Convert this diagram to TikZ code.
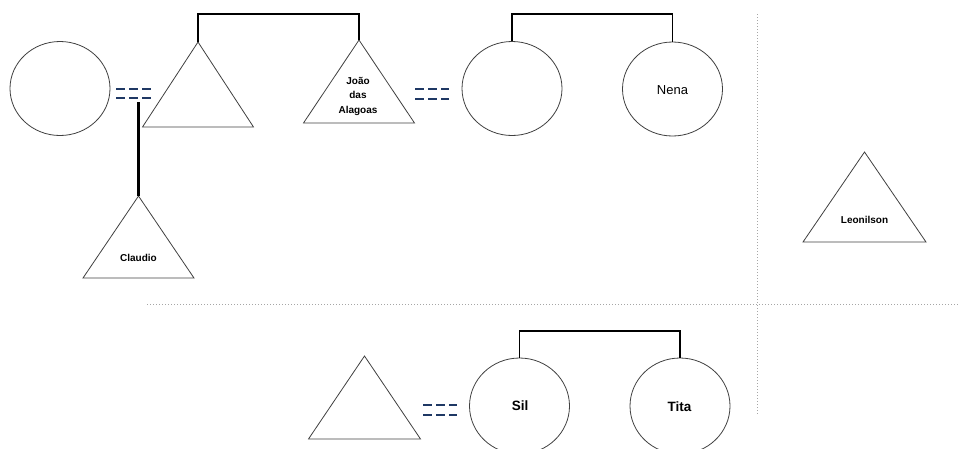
\documentclass[tikz,border=0pt]{standalone}
\usepackage{fontspec}
\setmainfont{Liberation Sans}
\usetikzlibrary{shapes.geometric}

\definecolor{navy}{HTML}{1F3864}
\tikzset{
  person/.style={ellipse, draw=black!75, line width=0.8pt, inner sep=0pt,
                 minimum width=100pt, minimum height=94pt},
  trishape/.style={draw=black!75, line width=0.8pt, line join=miter},
  lbl/.style={font=\bfseries\fontsize{10}{14.5}\selectfont, align=center, inner sep=0pt},
  biglbl/.style={font=\fontsize{13}{15}\selectfont, inner sep=0pt},
  bigbold/.style={font=\bfseries\fontsize{13.5}{15}\selectfont, inner sep=0pt},
  sibling/.style={line width=1.8pt, black},
  descent/.style={line width=2.4pt, black},
  union/.style={line width=2.3pt, color=navy, dash pattern=on 9pt off 4pt},
  divider/.style={line width=1pt, color=black!35, dotted}
}

% \mtri{name}{apex x}{apex y}{half base}{height}
\newcommand{\mtri}[5]{%
  \coordinate (#1-top) at (#2,#3);
  \coordinate (#1-bl) at (#2-#4,#3+#5);
  \coordinate (#1-br) at (#2+#4,#3+#5);
  \draw[trishape] (#1-top) -- (#1-bl) -- (#1-br) -- cycle;
}

\begin{document}
\begin{tikzpicture}[x=1pt, y=-1pt]
  \useasboundingbox (0,0) rectangle (958,448);

  % dividers
  \coordinate (vtop) at (757,14);
  \coordinate (vbot) at (757,415);
  \coordinate (hleft) at (147,304);
  \coordinate (hright) at (958,304);
  \draw[divider] (vtop) -- (vbot);
  \draw[divider] (hleft) -- (hright);

  % first generation, left family
  \node[person] (w1) at (60,88.5) {};
  \mtri{m1}{198}{42}{55.5}{85}
  \mtri{joao}{359}{40}{55.5}{83}
  \node[lbl] (joaotxt) at (358,96) {João\\das\\Alagoas};
  \node[person] (w2) at (512,88.5) {};
  \node[person] (nena) at (672.5,89) {};
  \node[biglbl] (nenatxt) at (672.5,90) {Nena};

  % Claudio
  \mtri{claudio}{138.5}{196}{55.5}{82}
  \node[lbl] (claudiotxt) at (138.5,258) {Claudio};

  % Leonilson
  \mtri{leo}{864.5}{152}{61.5}{90}
  \node[lbl] (leotxt) at (864.5,220) {Leonilson};

  % bottom family
  \mtri{m3}{364.5}{356}{56}{83}
  \node[person, minimum height=96pt] (sil) at (519.5,406) {};
  \node[bigbold] (siltxt) at (520,406) {Sil};
  \node[person, minimum height=96pt] (tita) at (680,406) {};
  \node[bigbold] (titatxt) at (679.5,407) {Tita};

  % sibling brackets
  \draw[sibling] (m1-top) -- ++(0,-28) -| (joao-top);
  \draw[sibling] (w2.north) -- ++(0,-27.5) -| (nena.north);
  \draw[sibling] (sil.north) -- ++(0,-27) -| (tita.north);

  % unions (double dashed)
  \coordinate (u1a) at (116,89);   \coordinate (u1b) at (151,89);
  \coordinate (u1c) at (116,98);   \coordinate (u1d) at (151,98);
  \draw[union] (u1a) -- (u1b);
  \draw[union] (u1c) -- (u1d);
  \coordinate (u2a) at (415,89);   \coordinate (u2b) at (449,89);
  \coordinate (u2c) at (415,99);   \coordinate (u2d) at (449,99);
  \draw[union] (u2a) -- (u2b);
  \draw[union] (u2c) -- (u2d);
  \coordinate (u3a) at (423,405);  \coordinate (u3b) at (457,405);
  \coordinate (u3c) at (423,415);  \coordinate (u3d) at (457,415);
  \draw[union] (u3a) -- (u3b);
  \draw[union] (u3c) -- (u3d);

  % descent line to Claudio
  \coordinate (desc) at (138.5,102);
  \draw[descent] (desc) -- (claudio-top);
\end{tikzpicture}
\end{document}
